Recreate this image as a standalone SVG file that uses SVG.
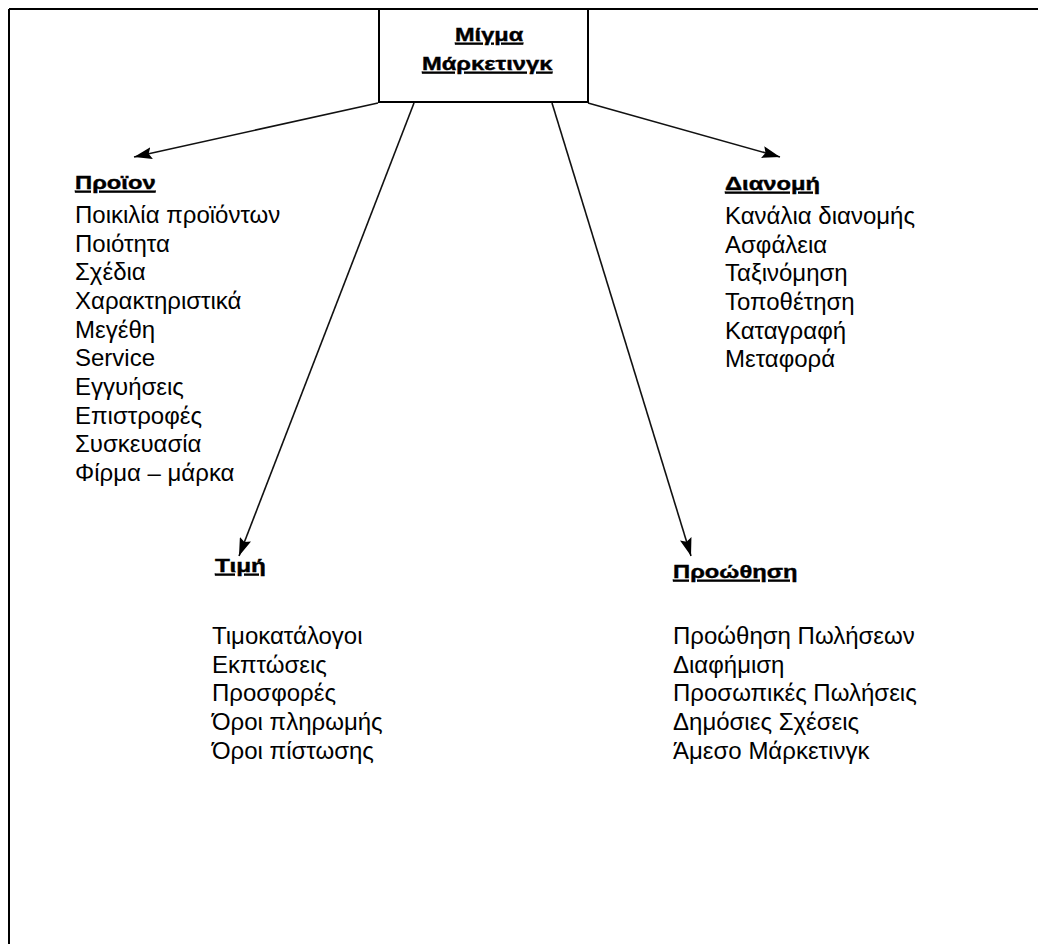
<svg xmlns="http://www.w3.org/2000/svg" width="1038" height="947" viewBox="0 0 1038 947">
<style>
.frame{stroke:#000;stroke-width:2;fill:none}
.box{fill:#fff;stroke:#000;stroke-width:2}
.conn{stroke:#111;stroke-width:1.6;fill:none}
.head{font-family:"Liberation Sans",Arial,sans-serif;font-weight:bold;font-size:19px;fill:#000;stroke:#000;stroke-width:0.4;text-decoration:underline}
.item{font-family:"Liberation Sans",Arial,sans-serif;font-size:24px;fill:#000}
</style>
<defs>
<marker id="arr" viewBox="0 0 18 12" refX="18" refY="6" markerWidth="18" markerHeight="12" markerUnits="userSpaceOnUse" orient="auto">
<path d="M0,0 L18,6 L0,12 L3,6 z" fill="#000"/>
</marker>
</defs>
<rect width="1038" height="947" fill="#fff"/>
<g id="frame">
<line class="frame" x1="9" y1="9" x2="1038" y2="9"/>
<line class="frame" x1="9" y1="9" x2="9" y2="944"/>
</g>
<g id="connectors">
<line class="conn" x1="378" y1="103" x2="134" y2="157" marker-end="url(#arr)"/>
<line class="conn" x1="414" y1="103" x2="239" y2="556" marker-end="url(#arr)"/>
<line class="conn" x1="552" y1="103" x2="691" y2="556" marker-end="url(#arr)"/>
<line class="conn" x1="588" y1="103" x2="780" y2="157" marker-end="url(#arr)"/>
</g>
<g id="node-mix">
<rect class="box" x="379" y="9" width="209" height="93"/>
<text class="head" transform="translate(455,41) scale(1.24,1)">Μίγμα</text>
<text class="head" transform="translate(422,70) scale(1.25,1)">Μάρκετινγκ</text>
</g>
<g id="node-product">
<text class="head" transform="translate(75,189) scale(1.25,1)">Προϊον</text>
<text class="item" x="75" y="223">Ποικιλία προϊόντων</text>
<text class="item" x="75" y="251.6">Ποιότητα</text>
<text class="item" x="75" y="280.3">Σχέδια</text>
<text class="item" x="75" y="309">Χαρακτηριστικά</text>
<text class="item" x="75" y="337.6">Μεγέθη</text>
<text class="item" x="75" y="366.3">Service</text>
<text class="item" x="75" y="395">Εγγυήσεις</text>
<text class="item" x="75" y="423.6">Επιστροφές</text>
<text class="item" x="75" y="452.3">Συσκευασία</text>
<text class="item" x="75" y="481">Φίρμα – μάρκα</text>
</g>
<g id="node-distribution">
<text class="head" transform="translate(725,190) scale(1.25,1)">Διανομή</text>
<text class="item" x="725" y="224">Κανάλια διανομής</text>
<text class="item" x="725" y="252.6">Ασφάλεια</text>
<text class="item" x="725" y="281.3">Ταξινόμηση</text>
<text class="item" x="725" y="310">Τοποθέτηση</text>
<text class="item" x="725" y="338.6">Καταγραφή</text>
<text class="item" x="725" y="367.3">Μεταφορά</text>
</g>
<g id="node-price">
<text class="head" transform="translate(215,572) scale(1.28,1)">Τιμή</text>
<text class="item" x="212" y="644">Τιμοκατάλογοι</text>
<text class="item" x="212" y="672.6">Εκπτώσεις</text>
<text class="item" x="212" y="701.3">Προσφορές</text>
<text class="item" x="212" y="730">Όροι πληρωμής</text>
<text class="item" x="212" y="758.6">Όροι πίστωσης</text>
</g>
<g id="node-promotion">
<text class="head" transform="translate(673,578) scale(1.25,1)">Προώθηση</text>
<text class="item" x="673" y="644">Προώθηση Πωλήσεων</text>
<text class="item" x="673" y="672.6">Διαφήμιση</text>
<text class="item" x="673" y="701.3">Προσωπικές Πωλήσεις</text>
<text class="item" x="673" y="730">Δημόσιες Σχέσεις</text>
<text class="item" x="673" y="758.6">Άμεσο Μάρκετινγκ</text>
</g>
</svg>
